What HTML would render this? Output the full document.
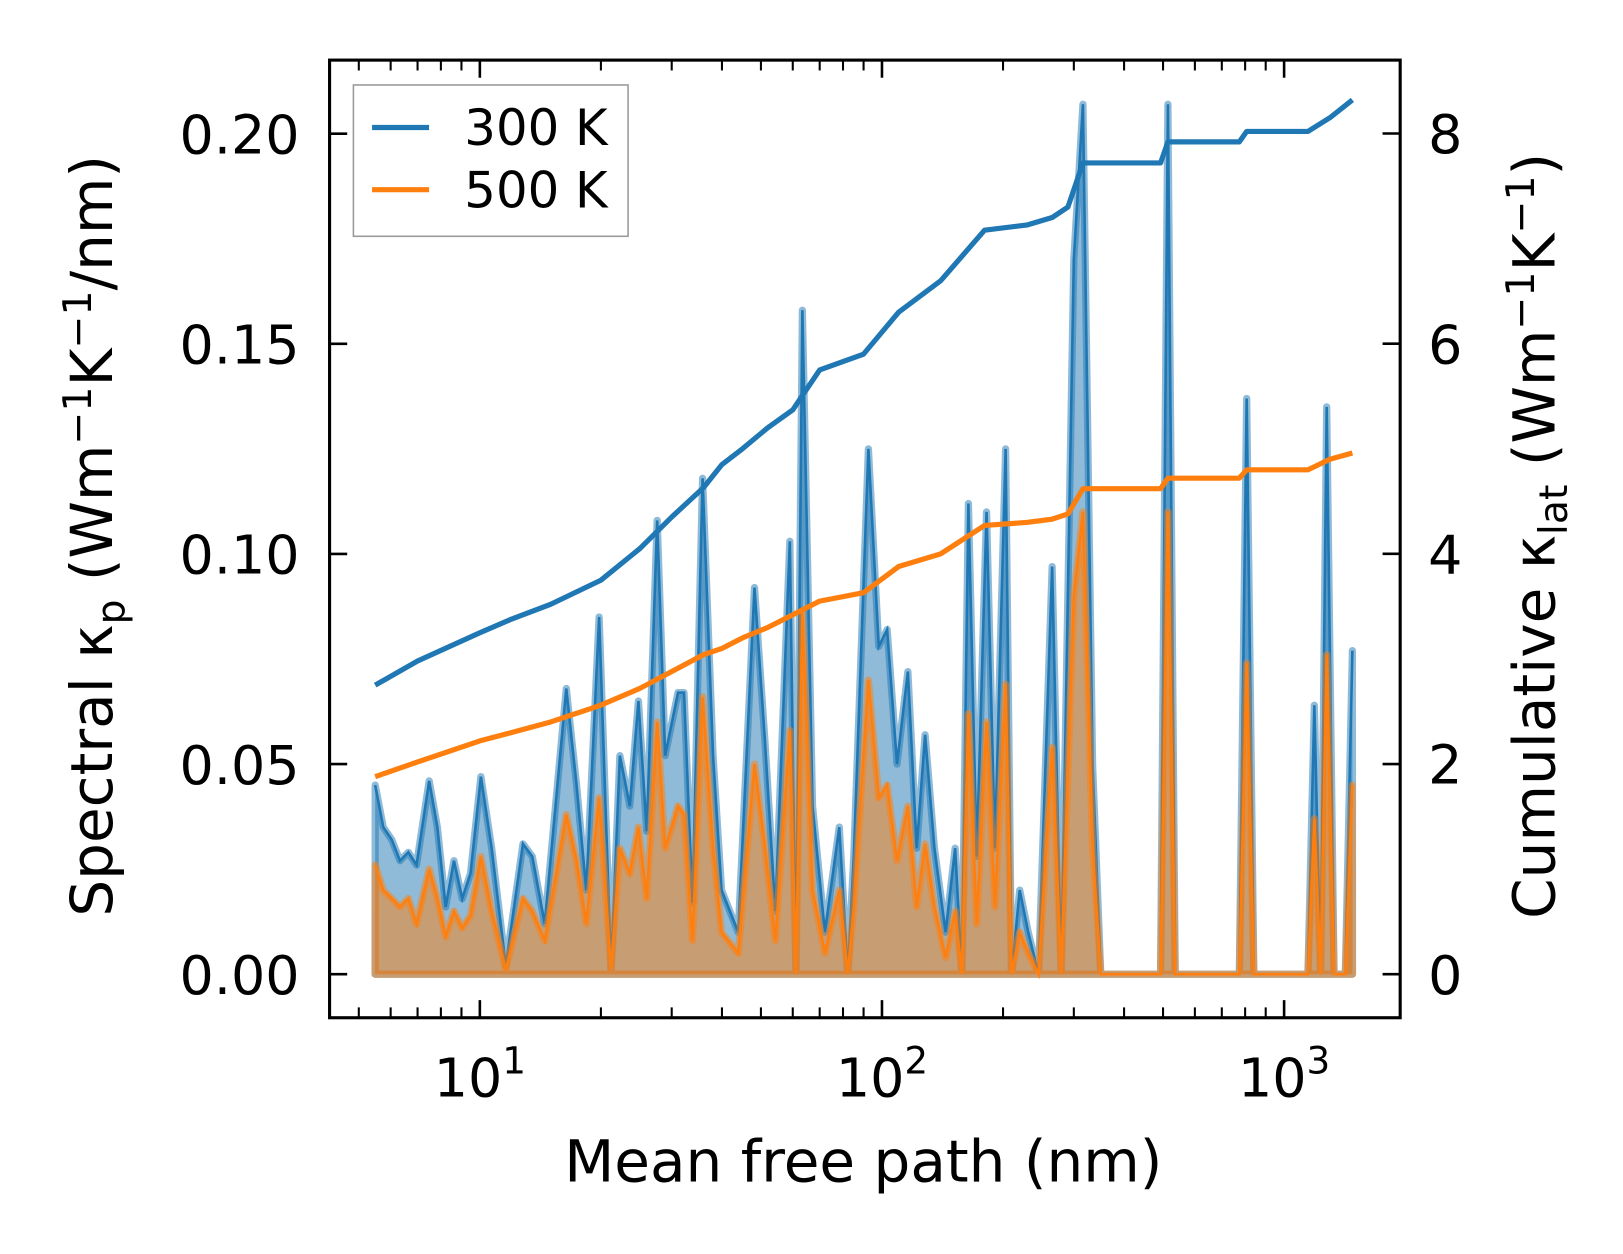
<!DOCTYPE html>
<html><head><meta charset="utf-8">
<style>
html,body{margin:0;padding:0;background:#fff;}
svg{display:block;font-family:"DejaVu Sans","Liberation Sans",sans-serif;}
</style></head>
<body>
<svg id="chart" width="1623" height="1254" viewBox="0 0 1623 1254" xmlns="http://www.w3.org/2000/svg">
<rect x="0" y="0" width="1623" height="1254" fill="#fff"/>
<g transform="scale(1.0364)">
<g id="fills"></g>
<g id="lines"></g>
<g id="axes"></g>
<rect x="318" y="58" width="1033" height="924" fill="none" stroke="#000" stroke-width="3"/>
<text transform="translate(108,517) rotate(-90)" text-anchor="middle" font-size="56">Spectral κ<tspan font-size="38" dy="12">p</tspan><tspan dy="-12"> (Wm</tspan><tspan font-size="38" dy="-20">−1</tspan><tspan dy="20">K</tspan><tspan font-size="38" dy="-20">−1</tspan><tspan dy="20">/nm)</tspan></text>
<text transform="translate(1500,517) rotate(-90)" text-anchor="middle" font-size="56">Cumulative κ<tspan font-size="38" dy="12">lat</tspan><tspan dy="-12"> (Wm</tspan><tspan font-size="38" dy="-20">−1</tspan><tspan dy="20">K</tspan><tspan font-size="38" dy="-20">−1</tspan><tspan dy="20">)</tspan></text>
<text x="833" y="1140" text-anchor="middle" font-size="56">Mean free path (nm)</text>
<g>
<rect x="341" y="82" width="265" height="146" fill="#fff" stroke="#999" stroke-width="1.5"/>
<line x1="359" y1="123" x2="414" y2="123" stroke="#1f77b4" stroke-width="5"/>
<text x="448" y="140" font-size="48">300 K</text>
<line x1="359" y1="183" x2="414" y2="183" stroke="#ff7f0e" stroke-width="5"/>
<text x="448" y="200" font-size="48">500 K</text>
</g>
</g>
</svg>
<script>
const mfp = [5.49,5.75,6.04,6.33,6.64,6.96,7.48,7.84,8.22,8.62,9.04,9.48,10.06,10.7,11.6,12.8,13.5,14.5,16.4,17.4,18.4,19.8,21.2,22.3,23.6,24.8,26.0,27.6,28.9,31.1,32.2,33.8,35.8,38.0,39.9,43.9,48.2,51.2,54.3,59.0,61.1,63.4,67.2,72.1,78.3,82.2,85.1,92.5,98.2,103,109,116,122,128,135,144,152,158,164,172,182,191,203,210,220,231,245,265,279,300,316,334,350,493,514,536,774,807,841,1146,1189,1232,1276,1331,1420,1479];
const spec300 = [0.045,0.035,0.032,0.027,0.029,0.026,0.046,0.035,0.016,0.027,0.018,0.024,0.047,0.030,0.002,0.031,0.028,0.012,0.068,0.045,0.020,0.085,0.001,0.052,0.040,0.065,0.034,0.108,0.052,0.067,0.067,0.017,0.118,0.052,0.020,0.010,0.092,0.055,0.015,0.103,0.000,0.158,0.040,0.010,0.035,0.000,0.028,0.125,0.078,0.082,0.050,0.072,0.030,0.057,0.030,0.010,0.030,0.000,0.112,0.028,0.110,0.030,0.125,0.000,0.020,0.010,0.000,0.097,0.000,0.170,0.207,0.050,0.000,0.000,0.207,0.000,0.000,0.137,0.000,0.000,0.064,0.000,0.135,0.000,0.000,0.077];
const spec500 = [0.026,0.020,0.018,0.016,0.018,0.012,0.025,0.018,0.009,0.015,0.011,0.014,0.028,0.015,0.001,0.018,0.015,0.008,0.038,0.027,0.012,0.042,0.001,0.030,0.024,0.035,0.018,0.060,0.030,0.040,0.038,0.008,0.066,0.030,0.010,0.005,0.050,0.030,0.008,0.058,0.000,0.086,0.020,0.005,0.020,0.000,0.016,0.070,0.042,0.045,0.027,0.040,0.016,0.031,0.016,0.004,0.015,0.000,0.062,0.012,0.060,0.016,0.069,0.000,0.010,0.005,0.000,0.054,0.000,0.090,0.110,0.030,0.000,0.000,0.110,0.000,0.000,0.074,0.000,0.000,0.037,0.000,0.076,0.000,0.000,0.045];
const cumMfp = [5.49,7,10,12,15,20,25,30,36,40,45,52,60,70,90,110,140,180,230,265,290,316,493,514,774,807,1146,1300,1479];
const cum300 = [2.75,2.98,3.25,3.38,3.52,3.75,4.05,4.35,4.63,4.85,5.0,5.2,5.37,5.75,5.9,6.3,6.6,7.08,7.13,7.2,7.3,7.72,7.72,7.92,7.92,8.02,8.02,8.15,8.32];
const cum500 = [1.88,2.02,2.22,2.3,2.4,2.56,2.72,2.88,3.04,3.1,3.2,3.3,3.42,3.55,3.63,3.88,4.0,4.27,4.3,4.33,4.38,4.62,4.62,4.72,4.72,4.8,4.8,4.9,4.96];
const xTicks = [10,100,1000];
const xTickExp = ["1","2","3"];
const yTicks = [0,0.05,0.10,0.15,0.20];
const yTickLabels = ["0.00","0.05","0.10","0.15","0.20"];
const y2Ticks = [0,2,4,6,8];

const NS="http://www.w3.org/2000/svg";
const X=v=>463+388*(Math.log10(v)-1);
const Y=v=>940-v*4055;
const Y2=v=>940-v*101.4;
function mk(tag,attrs,parent){const e=document.createElementNS(NS,tag);for(const k in attrs)e.setAttribute(k,attrs[k]);parent.appendChild(e);return e;}
const fills=document.getElementById('fills'),lines=document.getElementById('lines'),axes=document.getElementById('axes');
function areaPath(ys,fy){let d='M'+X(mfp[0])+','+fy(0);mfp.forEach((m,i)=>d+='L'+X(m).toFixed(1)+','+fy(ys[i]).toFixed(1));d+='L'+X(mfp[mfp.length-1])+','+fy(0)+'Z';return d;}
function linePath(xs,ys,fy){return xs.map((m,i)=>(i?'L':'M')+X(m).toFixed(1)+','+fy(ys[i]).toFixed(1)).join('');}
let e;
e=mk('path',{d:areaPath(spec300,Y),fill:'#1f77b4','fill-opacity':0.5,stroke:'#1f77b4','stroke-opacity':0.5,'stroke-width':7,'stroke-linejoin':'round'},fills);


e=mk('path',{d:linePath(mfp,spec300,Y),fill:'none',stroke:'#1f77b4','stroke-width':2.5},fills);


e=mk('path',{d:areaPath(spec500,Y),fill:'#ff7f0e','fill-opacity':0.5,stroke:'#ff7f0e','stroke-opacity':0.5,'stroke-width':7,'stroke-linejoin':'round'},fills);


e=mk('path',{d:linePath(mfp,spec500,Y),fill:'none',stroke:'#ff7f0e','stroke-width':2.5},fills);


e=mk('path',{d:linePath(cumMfp,cum300,Y2),fill:'none',stroke:'#1f77b4','stroke-width':5,'stroke-linejoin':'round'},lines);


e=mk('path',{d:linePath(cumMfp,cum500,Y2),fill:'none',stroke:'#ff7f0e','stroke-width':5,'stroke-linejoin':'round'},lines);


xTicks.forEach((t,i)=>{
  mk('line',{x1:X(t),x2:X(t),y1:982,y2:965,stroke:'#000','stroke-width':2.5},axes);
  mk('line',{x1:X(t),x2:X(t),y1:58,y2:75,stroke:'#000','stroke-width':2.5},axes);
  const tx=mk('text',{x:X(t),y:1058,'text-anchor':'middle','font-size':52},axes);
  
  
  tx.innerHTML='10<tspan font-size="36" dy="-22">'+xTickExp[i]+'</tspan>';
});
for(let d=0;d<=3;d++)for(let k=2;k<=9;k++){const v=k*Math.pow(10,d);const x=X(v);if(x<318||x>1351)continue;
  mk('line',{x1:x,x2:x,y1:982,y2:972,stroke:'#000','stroke-width':2},axes);
  mk('line',{x1:x,x2:x,y1:58,y2:68,stroke:'#000','stroke-width':2},axes);}
yTicks.forEach((t,i)=>{
  mk('line',{x1:318,x2:335,y1:Y(t),y2:Y(t),stroke:'#000','stroke-width':2.5},axes);
  const tx=mk('text',{x:289,y:Y(t)+19,'text-anchor':'end','font-size':52},axes);
  
  
  tx.textContent=yTickLabels[i];
});
y2Ticks.forEach(t=>{
  mk('line',{x1:1351,x2:1334,y1:Y2(t),y2:Y2(t),stroke:'#000','stroke-width':2.5},axes);
  const tx=mk('text',{x:1378,y:Y2(t)+19,'font-size':52},axes);
  
  
  tx.textContent=String(t);
});
</script>
</body></html>
